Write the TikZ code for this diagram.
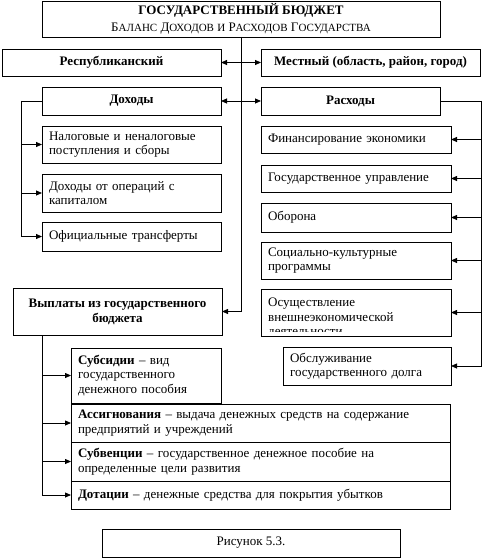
\documentclass[tikz,border=0pt]{standalone}
\usepackage{fontspec}
\setmainfont{Liberation Serif}
\usetikzlibrary{arrows.meta}
\newcommand{\smc}[1]{{\fontsize{11}{12}\selectfont #1}}
\begin{document}
\begin{tikzpicture}[x=1pt,y=-1pt, font=\fontsize{13}{14.5}\selectfont,
 box/.style={draw, line width=0.8pt, anchor=north west, inner sep=0pt, outer sep=0pt},
 lbox/.style={box, align=left, inner xsep=7pt},
 cbox/.style={box, align=center, font=\fontsize{13}{15}\selectfont\bfseries},
 conn/.style={line width=0.8pt},
 arr/.style={conn, -{Triangle[length=6pt,width=5pt]}},
 darr/.style={conn, {Triangle[length=6pt,width=5pt]}-{Triangle[length=6pt,width=5pt]}}]
\useasboundingbox (0,0) rectangle (482,559);
% top
\node[box, minimum width=398pt, minimum height=36pt, align=center] (top) at (42,1)
 {\textbf{ГОСУДАРСТВЕННЫЙ БЮДЖЕТ}\\[2pt]
  {\fontsize{13}{14}\selectfont Б\smc{АЛАНС} Д\smc{ОХОДОВ} \smc{И} Р\smc{АСХОДОВ} Г\smc{ОСУДАРСТВА}}};
\node[cbox, minimum width=219pt, minimum height=27pt] (resp) at (2,49) {Республиканский};
\node[cbox, minimum width=219pt, minimum height=27pt] (mest) at (261,49) {Местный (область, район, город)};
\node[cbox, minimum width=179pt, minimum height=28pt] (doh) at (42,87) {Доходы};
\node[cbox, minimum width=179pt, minimum height=28pt] (ras) at (261,87) {Расходы};
% incomes
\node[lbox, text width=165pt, minimum height=37pt] (nal) at (42,126) {Налоговые и неналоговые\\поступления и сборы};
\node[lbox, text width=165pt, minimum height=38pt] (dop) at (42,174) {Доходы от операций с\\капиталом};
\node[lbox, text width=165pt, minimum height=29pt] (off) at (42,222) {Официальные трансферты};
% expenses
\node[lbox, text width=176pt, minimum height=27pt] (fin) at (261,126) {Финансирование экономики};
\node[lbox, text width=176pt, minimum height=27pt] (gos) at (261,165) {Государственное управление};
\node[lbox, text width=176pt, minimum height=29pt] (obo) at (261,203) {Оборона};
\node[lbox, text width=176pt, minimum height=37pt] (soc) at (261,242) {Социально-культурные\\программы};
\node[box, minimum width=190pt, minimum height=47pt] (osu) at (261,289) {};
\begin{scope}
\clip (osu.north west) rectangle ([yshift=5pt]osu.south east);
\node[anchor=north west, inner sep=0pt, text width=176pt, align=left,
      font=\fontsize{13}{14.5}\selectfont] (osut) at (268,298)
 {Осуществление\\внешнеэкономической\\деятельности};
\end{scope}
\node[lbox, text width=154pt, minimum height=38pt] (obs) at (283,347) {Обслуживание\\государственного долга};
% payments
\node[cbox, minimum width=209pt, minimum height=47pt] (vyp) at (13,288) {Выплаты из государственного\\бюджета};
\node[lbox, text width=136pt, minimum height=55pt] (sub) at (71,348) {\textbf{Субсидии} – вид\\государственного\\денежного пособия};
\node[lbox, text width=365pt, minimum height=38pt] (ass) at (71,404) {\textbf{Ассигнования} – выдача денежных средств на содержание\\предприятий и учреждений};
\node[lbox, text width=365pt, minimum height=39pt] (subv) at (71,442) {\textbf{Субвенции} – государственное денежное пособие на\\определенные цели развития};
\node[lbox, text width=365pt, minimum height=28pt] (dot) at (71,481) {\textbf{Дотации} – денежные средства для покрытия убытков};
\node[box, minimum width=298pt, minimum height=28pt] (ris) at (102,529) {Рисунок 5.3.};
% connectors
\draw[arr] (top.south) |- (vyp.east);
\draw[darr] (resp.east) -- (mest.west);
\draw[darr] (doh.east) -- (ras.west);
\draw[conn] (doh.west) -- ++(-21,0) coordinate (dl);
\draw[arr] (dl) |- (off.west);
\draw[arr] (dl |- nal.west) -- (nal.west);
\draw[arr] (dl |- dop.west) -- (dop.west);
\draw[conn] (ras.east) -- ++(41,0) coordinate (dr);
\draw[arr] (dr) |- (obs.east);
\foreach \n in {fin,gos,obo,soc,osu} \draw[arr] (dr |- \n.east) -- (\n.east);
\path (vyp.south west) ++(29,0) coordinate (vl);
\draw[arr] (vl) |- (dot.west);
\foreach \n in {sub,ass,subv} \draw[arr] (vl |- \n.west) -- (\n.west);
\end{tikzpicture}
\end{document}
